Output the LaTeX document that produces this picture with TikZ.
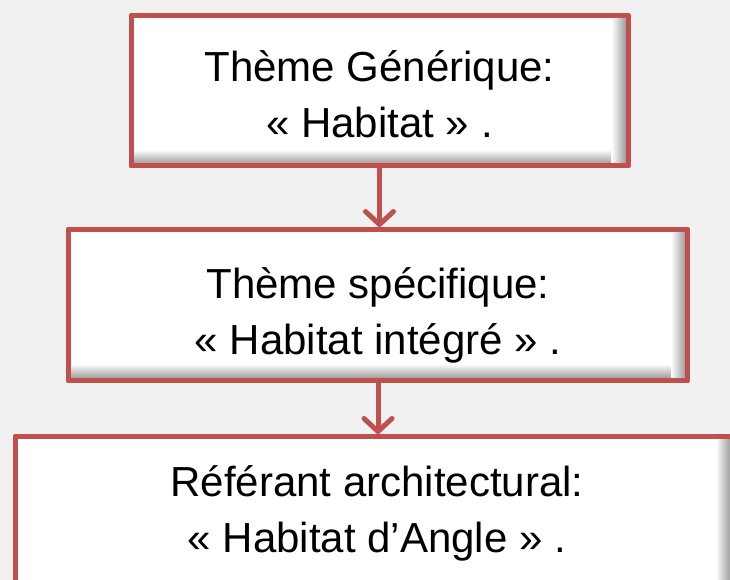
\documentclass[tikz,border=0pt]{standalone}
\usepackage{fontspec}
\setmainfont{Liberation Sans}
\usetikzlibrary{arrows.meta}
\definecolor{boxred}{HTML}{C0504D}
\definecolor{bgray}{HTML}{F1F1F1}
\begin{document}
\begin{tikzpicture}[x=1pt,y=-1pt,
  box/.style={draw=boxred, line width=5pt, fill=white, line join=round, inner sep=0pt},
  txt/.style={align=center, inner sep=0pt, font=\fontsize{42}{56}\selectfont},
  link/.style={draw=boxred, line width=5pt, line cap=round,
    -{Straight Barb[length=13pt,width=28pt,round]}},
  bshade/.style={top color=white, bottom color=black!38},
  rshade/.style={left color=white, right color=black!38}]
\useasboundingbox (0,0) rectangle (730,580);
\clip (0,0) rectangle (730,580);
\fill[bgray] (0,0) rectangle (730,580);
% boxes
\node[box, minimum width=497pt, minimum height=150pt] (b1) at (379.5,91) {};
\node[box, minimum width=619pt, minimum height=151pt] (b2) at (378,305) {};
\node[box, minimum width=800pt, minimum height=151pt] (b3) at (415.5,512) {};
\coordinate (b3edge) at (730,580);
% inner shadows
\foreach \b in {b1,b2}{
  \shade[bshade]
    ([xshift=5pt,yshift=19pt]\b.south west) rectangle ([xshift=-5pt,yshift=5pt]\b.south east);
  \shade[rshade]
    ([xshift=-19pt,yshift=-5pt]\b.north east) rectangle ([xshift=-5pt,yshift=5pt]\b.south east);
}
\shade[rshade] ([yshift=-5pt]b3.north -| b3edge) ++(-14,0) rectangle (b3edge);
% borders over shading
\foreach \b in {b1,b2,b3}{
  \draw[boxred, line width=5pt, line join=round]
    ([xshift=2.5pt,yshift=-2.5pt]\b.north west) rectangle ([xshift=-2.5pt,yshift=2.5pt]\b.south east);
}
% texts
\node[txt] (t1) at ([yshift=-3pt]b1.center) {Thème Générique:\\« Habitat » .};
\node[txt] (t2) at ([yshift=-10pt]b2.center) {Thème spécifique:\\« Habitat intégré » .};
\node[txt] (t3) at (377,513) {Référant architectural:\\« Habitat d’Angle » .};
% connectors
\draw[link] (b1.south) -- (b1.south |- b2.north);
\draw[link] (b2.south) -- (b2.south |- b3.north);
\end{tikzpicture}
\end{document}
